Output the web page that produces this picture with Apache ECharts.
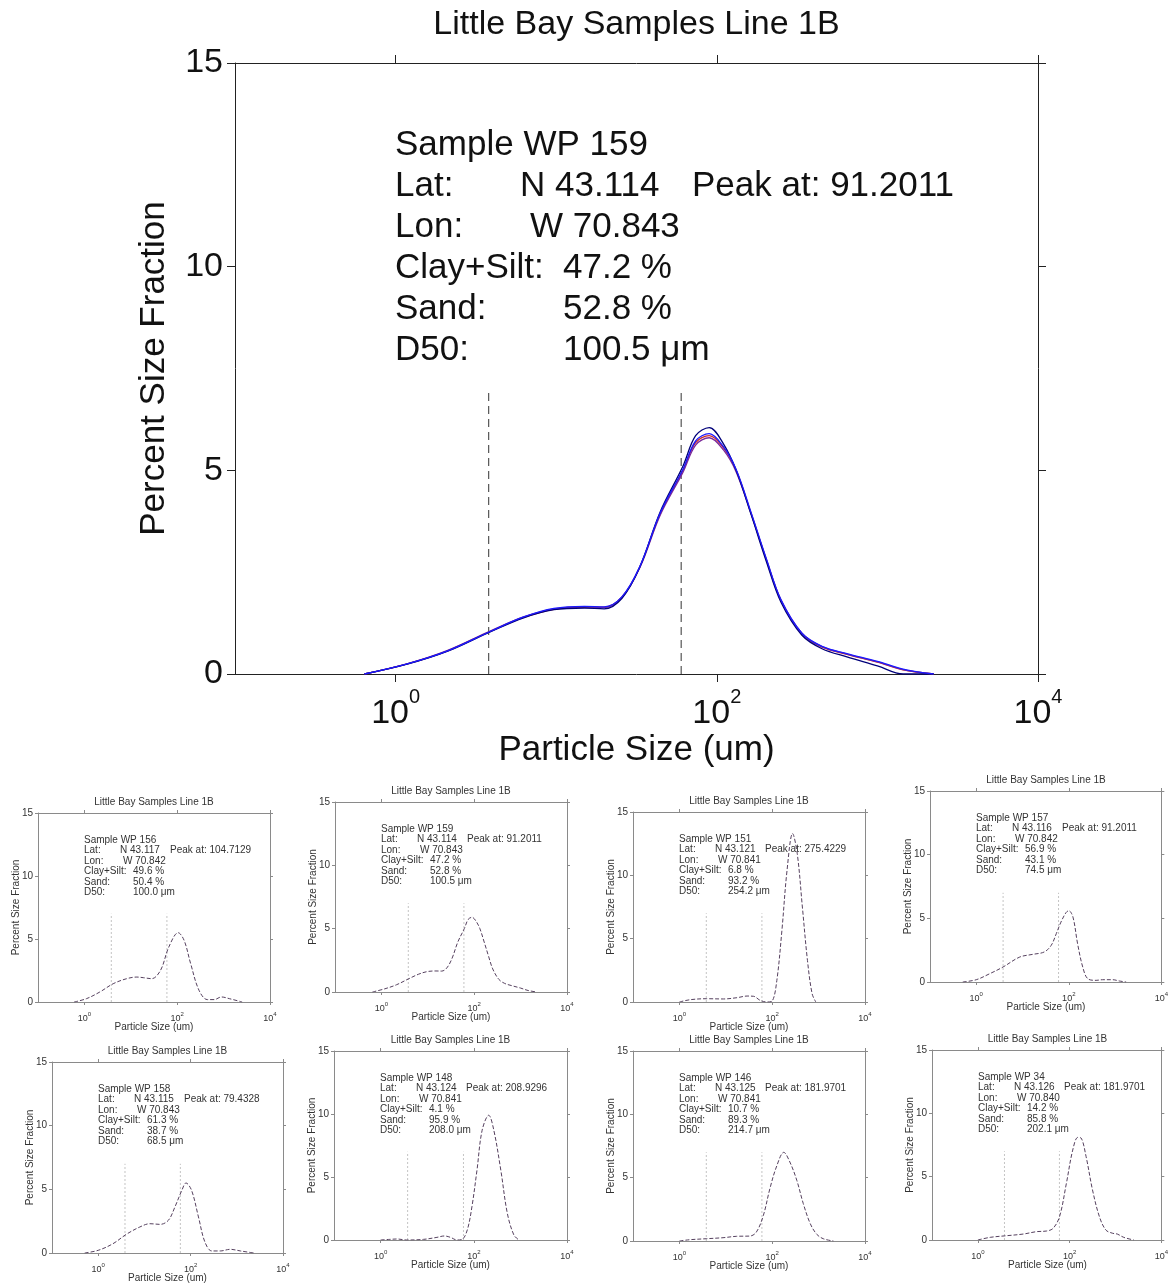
<!DOCTYPE html>
<html><head><meta charset="utf-8">
<script src="https://cdn.jsdelivr.net/npm/echarts@6/dist/echarts.min.js"></script>
<style>html,body{margin:0;padding:0;background:#fff}#c{width:1171px;height:1285px}</style>
</head><body><div id="c"></div>
<script>
// ---------------- DATA ----------------
const chartTitle = 'Little Bay Samples Line 1B';
const xName = 'Particle Size (um)';
const yName = 'Percent Size Fraction';
const sizeTicks = [1, 100, 10000];
const sizeMin = 0.1, sizeMax = 10000;
const yMin = 0, yMax = 15, yStep = 5;
const boundarySizes = [3.8, 60];
const boundaryTop = 7;

// WP 159 (main chart, four replicate runs)
const wp159Size = [0.64, 1.18, 2.11, 3.91, 6.27, 9.68, 15.0, 19.9, 25.7, 33.1, 44.4, 61.5, 73.8, 89.7, 110, 132, 164, 204, 251, 339, 452, 646, 1000, 1445, 2239];
const wp159RunA = [0, 0.24, 0.56, 1.04, 1.38, 1.58, 1.62, 1.60, 1.86, 2.62, 3.98, 5.10, 5.85, 6.05, 5.65, 5.00, 3.90, 2.75, 1.76, 0.95, 0.62, 0.42, 0.20, 0, 0];
const wp159RunB = [0, 0.25, 0.58, 1.06, 1.40, 1.60, 1.65, 1.63, 1.88, 2.60, 3.90, 4.95, 5.62, 5.80, 5.50, 4.96, 3.92, 2.80, 1.82, 1.00, 0.67, 0.49, 0.30, 0.11, 0];
const wp159RunC = [0, 0.25, 0.57, 1.05, 1.39, 1.59, 1.64, 1.64, 1.89, 2.62, 3.93, 5.00, 5.68, 5.85, 5.55, 5.00, 3.93, 2.79, 1.80, 0.98, 0.66, 0.48, 0.29, 0.10, 0];
const wp159RunD = [0, 0.25, 0.57, 1.05, 1.40, 1.61, 1.66, 1.65, 1.90, 2.63, 3.95, 5.02, 5.72, 5.90, 5.58, 5.02, 3.95, 2.82, 1.82, 1.00, 0.68, 0.50, 0.31, 0.12, 0];

const wp156Size = [0.60, 1.10, 2.14, 4.17, 8.13, 13.5, 18.6, 28.2, 43.7, 66.1, 105, 141, 195, 295, 447, 631, 891, 1349, 2512];
const wp156Val  = [0, 0.26, 0.79, 1.45, 1.85, 1.98, 1.93, 1.85, 2.51, 4.37, 5.50, 4.89, 3.04, 0.93, 0.19, 0.19, 0.40, 0.26, 0];

const wp151Size = [1.0, 1.70, 3.89, 8.91, 17.4, 28.8, 39.8, 55.0, 77.6, 100, 126, 162, 209, 275, 347, 447, 575, 724, 871];
const wp151Val  = [0, 0.18, 0.26, 0.24, 0.34, 0.47, 0.45, 0.13, 0, 0.08, 1.71, 5.66, 10.4, 13.3, 11.7, 7.5, 3.29, 0.66, 0];

const wp157Size = [0.51, 1.0, 1.95, 3.80, 8.71, 16.6, 29.5, 41.7, 53.7, 67.6, 87.1, 100, 123, 155, 200, 257, 389, 537, 891, 1230, 1738];
const wp157Val  = [0, 0.18, 0.65, 1.18, 1.96, 2.17, 2.36, 2.88, 3.80, 4.70, 5.45, 5.60, 5.10, 3.00, 1.18, 0.26, 0.13, 0.18, 0.18, 0.08, 0];

const wp158Size = [0.51, 1.0, 2.09, 4.07, 7.94, 13.2, 21.9, 33.1, 45.7, 64.6, 79.4, 105, 148, 204, 288, 437, 724, 1202, 2344];
const wp158Val  = [0, 0.21, 0.73, 1.47, 2.04, 2.30, 2.25, 2.57, 3.61, 4.92, 5.50, 4.92, 2.83, 0.86, 0.16, 0.16, 0.29, 0.16, 0];

const wp148Size = [1.0, 1.58, 2.24, 3.63, 8.32, 16.2, 23.4, 31.6, 43.7, 56.2, 72.4, 91.2, 117, 151, 209, 269, 380, 525, 724, 933];
const wp148Val  = [0, 0.05, 0.08, 0, 0.05, 0.21, 0.32, 0.21, 0, 0.05, 0.79, 2.64, 5.54, 8.71, 9.9, 8.71, 5.54, 2.11, 0.40, 0];

const wp146Size = [1.0, 1.66, 3.80, 8.71, 17.0, 33.1, 45.7, 64.6, 89.1, 123, 178, 240, 339, 468, 661, 912, 1259, 2089];
const wp146Val  = [0, 0.10, 0.18, 0.26, 0.37, 0.39, 0.71, 2.03, 4.13, 5.84, 7.0, 6.24, 4.79, 2.95, 1.37, 0.53, 0.18, 0];

const wp34Size = [1.0, 1.86, 4.27, 9.77, 19.1, 31.6, 43.7, 60.3, 85.1, 117, 151, 178, 229, 316, 447, 617, 871, 1096, 1514, 2512];
const wp34Val  = [0, 0.21, 0.34, 0.47, 0.66, 0.71, 0.92, 1.84, 4.47, 7.1, 8.1, 8.05, 6.58, 3.95, 1.84, 0.79, 0.53, 0.47, 0.21, 0];

// sample annotation text
const sampleIds  = ['159', '156', '159', '151', '157', '158', '148', '146', '34'];
const sampleLat  = ['N 43.114', 'N 43.117', 'N 43.114', 'N 43.121', 'N 43.116', 'N 43.115', 'N 43.124', 'N 43.125', 'N 43.126'];
const sampleLon  = ['W 70.843', 'W 70.842', 'W 70.843', 'W 70.841', 'W 70.842', 'W 70.843', 'W 70.841', 'W 70.841', 'W 70.840'];
const sampleClay = ['47.2', '49.6', '47.2', '6.8', '56.9', '61.3', '4.1', '10.7', '14.2'];
const sampleSand = ['52.8', '50.4', '52.8', '93.2', '43.1', '38.7', '95.9', '89.3', '85.8'];
const sampleD50  = ['100.5', '100.0', '100.5', '254.2', '74.5', '68.5', '208.0', '214.7', '202.1'];
const samplePeak = ['91.2011', '104.7129', '91.2011', '275.4229', '91.2011', '79.4328', '208.9296', '181.9701', '181.9701'];

// ---------------- LAYOUT / STYLE ----------------
const FF = '"Liberation Sans", Arial, Helvetica, sans-serif';
const BIG = {axisColor:'#222', tick:8, xMargin:13, xFont:34, supFont:20, xLH:44, supLH:16, yFont:34, yMargin:12,
  textColor:'#111', titleFont:34, titleDy:38, nameFont:35, yNameDx:81, xNameDy:76,
  annFont:35, annDx:160, annDy:82, annStep:41, cols:[125, 297, 135, 168], bColor:'#333', bWidth:1, bDash:[8,5]};
const SMALL = {axisColor:'#8a8a8a', tick:3, xMargin:9, xFont:9, supFont:6, xLH:12, supLH:5, yFont:10, yMargin:5,
  textColor:'#333', titleFont:10, titleDy:11, nameFont:10, yNameDx:22, xNameDy:25,
  annFont:10, annDx:46, annDy:27, annStep:10.5, cols:[36, 86, 39, 49], bColor:'#c4c4c4', bWidth:1, bDash:[2,2]};

const option = {animation:false, backgroundColor:'#ffffff', grid:[], xAxis:[], yAxis:[], series:[], graphic:{elements:[]}};

function txt(x, y, text, size, color, align, rot) {
  const el = {type:'text', x:x, y:y, silent:true, z:10,
    style:{text:text, fontSize:size, fontFamily:FF, fill:color, textAlign:align || 'left', textVerticalAlign:'middle', verticalAlign:'middle'}};
  if (rot) el.rotation = rot;
  option.graphic.elements.push(el);
}

function panel(pos, S, si, curves) {
  const gi = option.grid.length, xi = option.xAxis.length, yi = option.yAxis.length;
  option.grid.push({left:pos.left, top:pos.top, width:pos.w, height:pos.h});
  const axisLine = {show:true, onZero:false, lineStyle:{color:S.axisColor, width:1}};
  const xTick = {show:true, inside:false, length:S.tick, customValues:sizeTicks, lineStyle:{color:S.axisColor, width:1}};
  const xBase = {gridIndex:gi, type:'log', logBase:10, min:sizeMin, max:sizeMax, axisLine:axisLine,
    splitLine:{show:false}, minorTick:{show:false}, minorSplitLine:{show:false}};
  option.xAxis.push(Object.assign({}, xBase, {position:'bottom', axisTick:xTick,
    axisLabel:{show:true, customValues:sizeTicks, margin:S.xMargin, color:S.textColor,
      formatter:function(v){ return '{b|10}{s|' + Math.round(Math.log10(v)) + '}'; },
      rich:{b:{fontSize:S.xFont, fontFamily:FF, color:S.textColor, lineHeight:S.xLH, verticalAlign:'bottom'},
            s:{fontSize:S.supFont, fontFamily:FF, color:S.textColor, lineHeight:S.supLH, verticalAlign:'top'}}}}));
  option.xAxis.push(Object.assign({}, xBase, {position:'top', axisTick:xTick, axisLabel:{show:false}}));
  const yTick = {show:true, inside:false, length:S.tick, lineStyle:{color:S.axisColor, width:1}};
  const yBase = {gridIndex:gi, type:'value', min:yMin, max:yMax, interval:yStep, axisLine:axisLine, splitLine:{show:false}};
  option.yAxis.push(Object.assign({}, yBase, {position:'left', axisTick:yTick,
    axisLabel:{show:true, fontSize:S.yFont, fontFamily:FF, color:S.textColor, margin:S.yMargin}}));
  option.yAxis.push(Object.assign({}, yBase, {position:'right', axisTick:yTick, axisLabel:{show:false}}));

  boundarySizes.forEach(function(b){
    option.series.push({type:'line', xAxisIndex:xi, yAxisIndex:yi, data:[[b, 0], [b, boundaryTop]], symbol:'none', silent:true,
      lineStyle:{color:S.bColor, width:S.bWidth, type:S.bDash}, z:2});
  });
  curves.forEach(function(c){
    option.series.push({type:'line', xAxisIndex:xi, yAxisIndex:yi, data:c.x.map(function(s, k){ return [s, c.y[k]]; }),
      symbol:'none', smooth:0.35, silent:true, lineStyle:{color:c.color, width:c.width, type:c.type}, z:3});
  });

  const cx = pos.left + pos.w / 2, bottom = pos.top + pos.h;
  txt(cx, pos.top - S.titleDy, chartTitle, S.titleFont, S.textColor, 'center');
  txt(pos.left - S.yNameDx, pos.top + pos.h / 2, yName, S.nameFont, S.textColor, 'center', Math.PI / 2);
  txt(cx, bottom + S.xNameDy, xName, S.nameFont, S.textColor, 'center');

  const x0 = pos.left + S.annDx, y0 = pos.top + S.annDy, d = S.annStep, c = S.cols, f = S.annFont, col = S.textColor;
  txt(x0, y0, 'Sample WP ' + sampleIds[si], f, col);
  txt(x0, y0 + d, 'Lat:', f, col); txt(x0 + c[0], y0 + d, sampleLat[si], f, col); txt(x0 + c[1], y0 + d, 'Peak at: ' + samplePeak[si], f, col);
  txt(x0, y0 + 2 * d, 'Lon:', f, col); txt(x0 + c[2], y0 + 2 * d, sampleLon[si], f, col);
  txt(x0, y0 + 3 * d, 'Clay+Silt:', f, col); txt(x0 + c[3], y0 + 3 * d, sampleClay[si] + ' %', f, col);
  txt(x0, y0 + 4 * d, 'Sand:', f, col); txt(x0 + c[3], y0 + 4 * d, sampleSand[si] + ' %', f, col);
  txt(x0, y0 + 5 * d, 'D50:', f, col); txt(x0 + c[3], y0 + 5 * d, sampleD50[si] + ' \u03bcm', f, col);
}

const smallLine = {color:'#55405e', width:1, type:[4, 2]};
function sc(x, y) { return {x:x, y:y, color:smallLine.color, width:smallLine.width, type:smallLine.type}; }

panel({left:235, top:63, w:803, h:611}, BIG, 0, [
  {x:wp159Size, y:wp159RunC, color:'#cc2a2a', width:1.3, type:'solid'},
  {x:wp159Size, y:wp159RunB, color:'#7a2a9a', width:1.3, type:'solid'},
  {x:wp159Size, y:wp159RunA, color:'#00007a', width:1.3, type:'solid'},
  {x:wp159Size, y:wp159RunD, color:'#1a1aff', width:1.3, type:'solid'}
]);
panel({left:38,  top:813,  w:232, h:189}, SMALL, 1, [sc(wp156Size, wp156Val)]);
panel({left:335, top:802,  w:232, h:190}, SMALL, 2, [sc(wp159Size, wp159RunD)]);
panel({left:633, top:812,  w:232, h:190}, SMALL, 3, [sc(wp151Size, wp151Val)]);
panel({left:930, top:791,  w:232, h:191}, SMALL, 4, [sc(wp157Size, wp157Val)]);
panel({left:52,  top:1062, w:231, h:191}, SMALL, 5, [sc(wp158Size, wp158Val)]);
panel({left:334, top:1051, w:233, h:189}, SMALL, 6, [sc(wp148Size, wp148Val)]);
panel({left:633, top:1051, w:232, h:190}, SMALL, 7, [sc(wp146Size, wp146Val)]);
panel({left:932, top:1050, w:231, h:190}, SMALL, 8, [sc(wp34Size, wp34Val)]);

const chart = echarts.init(document.getElementById('c'), null, {renderer:'canvas', width:1171, height:1285});
chart.setOption(option);
</script></body></html>
